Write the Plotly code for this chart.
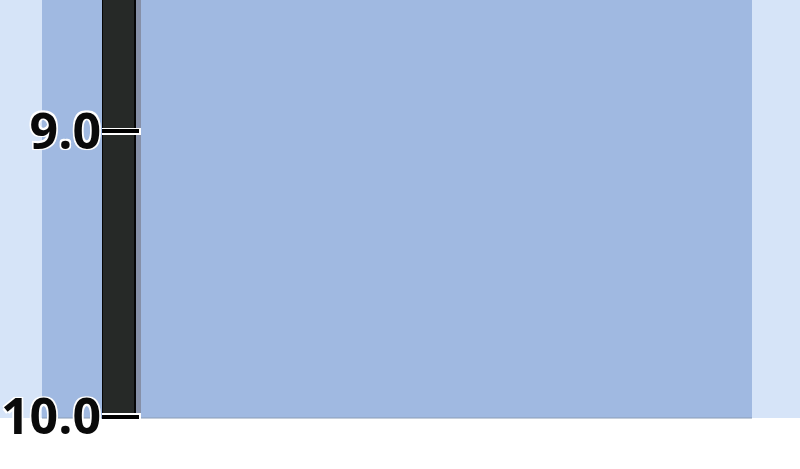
import plotly.graph_objects as go

# data
categories = [0.0]
bar_base = [10.0]
bar_length = [-1.6]      # bar rises from 10.0 to above the visible top (reversed axis)
tick_vals = [9.0, 10.0]
tick_text = ["9.0", "10.0"]

W, H = 800, 469
ML, MR, MT, MB = 102, 48, 0, 51
PW = W - ML - MR
PH = H - MT - MB

def px2x(p):
    return (p - ML) / PW

fig = go.Figure()

# drop shadow of the bar
fig.add_trace(go.Bar(
    x=categories, y=bar_length, base=bar_base, width=[39 / PW], offset=0,
    marker=dict(color="#8690a8", line=dict(width=0)),
    hoverinfo="skip", showlegend=False,
))
# the bar itself
fig.add_trace(go.Bar(
    x=categories, y=bar_length, base=bar_base, width=[33 / PW], offset=0,
    marker=dict(color="#262927", line=dict(color="#050505", width=2)),
    showlegend=False,
))
# invisible trace carrying the overlay axis
fig.add_trace(go.Scatter(x=categories, y=[9.5], yaxis="y2", mode="markers",
                         marker=dict(opacity=0), hoverinfo="skip", showlegend=False))

shadow = "-1.5px -1.5px 0 #fff, 1.5px -1.5px 0 #fff, -1.5px 1.5px 0 #fff, 1.5px 1.5px 0 #fff, 0 0 2px #fff"

yr = [10.0045, 8.541]
fig.update_layout(
    width=W, height=H,
    margin=dict(l=ML, r=MR, t=MT, b=MB, pad=0),
    paper_bgcolor="#ffffff",
    plot_bgcolor="#9fbbe3",
    barmode="overlay",
    bargap=0,
    xaxis=dict(range=[0, 1], showgrid=False, zeroline=False, showticklabels=False,
               ticks="", showline=False, fixedrange=True),
    yaxis=dict(range=yr, tickvals=tick_vals, ticktext=tick_text, showgrid=False,
               zeroline=False, ticks="inside", ticklen=39, tickwidth=6.5, tickcolor="#ffffff",
               showline=False,
               tickfont=dict(family="Open Sans", size=50, color="#0a0a0a", weight=700,
                             shadow=shadow)),
    yaxis2=dict(range=yr, overlaying="y", side="left", tickvals=tick_vals,
                showticklabels=False, showgrid=False, zeroline=False,
                ticks="inside", ticklen=37, tickwidth=3.5, tickcolor="#000000",
                showline=False),
    shapes=[
        dict(type="rect", xref="paper", yref="paper", x0=px2x(0), x1=px2x(W), y0=0, y1=1,
             fillcolor="#d6e4f8", line=dict(width=0), layer="below"),
        dict(type="rect", xref="paper", yref="paper", x0=px2x(42), x1=1, y0=0, y1=1,
             fillcolor="#a0b9e1", line=dict(width=0), layer="below"),
        dict(type="line", xref="paper", yref="paper", x0=px2x(42), x1=1, y0=0, y1=0,
             line=dict(color="#8a9cb6", width=1), layer="below"),
    ],
)

fig.write_html("out.html", config={"displayModeBar": False},
               post_script="document.body.style.margin='0';document.body.style.overflow='hidden';")
